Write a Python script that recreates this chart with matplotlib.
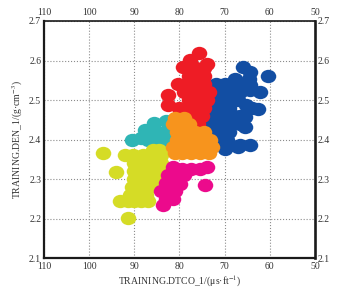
import matplotlib
matplotlib.use('Agg')
import matplotlib.pyplot as plt
from matplotlib.path import Path
from matplotlib.transforms import Affine2D

plt.rcParams['font.family'] = ['Liberation Serif', 'DejaVu Serif']

teal_x = [90.5, 88.5, 87.6, 85.6, 85.0, 83.0, 83.0, 85.0, 87.0, 83.0]
teal_y = [2.399, 2.405, 2.424, 2.442, 2.42, 2.447, 2.42, 2.40, 2.40, 2.40]

yellow_x = [96.9, 94.1, 91.4,
            85.9, 84.5,
            92.1, 90.3, 88.0, 86.0, 84.0,
            90.0, 88.0, 86.0, 84.0,
            90.0, 88.0, 86.0, 84.5,
            90.0, 88.0, 86.0, 85.0,
            90.5, 88.5, 86.5,
            91.0, 89.0, 87.5,
            93.2, 91.5, 90.0, 88.5, 87.0]
yellow_y = [2.365, 2.317, 2.201,
            2.373, 2.373,
            2.36, 2.36, 2.36, 2.36, 2.36,
            2.34, 2.34, 2.34, 2.34,
            2.32, 2.32, 2.32, 2.32,
            2.30, 2.30, 2.30, 2.30,
            2.28, 2.28, 2.28,
            2.26, 2.26, 2.26,
            2.244, 2.244, 2.244, 2.244, 2.244]

blue_x = [60.4, 65.9, 64.4, 64.6, 67.7, 62.2, 64.4, 65.5, 64.0, 62.6, 65.3, 65.5, 65.5,
          66.5, 68.8, 64.5, 67.0, 70.0,
          72.0, 70.0, 68.0, 66.5,
          72.5, 70.5, 68.5, 66.5, 64.5,
          73.0, 71.0, 69.0, 67.0,
          73.0, 71.0, 69.0,
          74.0, 72.0, 70.0, 68.0, 66.5,
          74.5, 72.5, 70.5, 68.5, 66.5,
          75.0, 73.0, 71.0, 69.0,
          73.0, 71.0, 69.5]
blue_y = [2.561, 2.584, 2.571, 2.553, 2.553, 2.52, 2.538, 2.535, 2.48, 2.477, 2.487, 2.457, 2.432,
          2.385, 2.385, 2.387, 2.38, 2.375,
          2.54, 2.54, 2.54, 2.54,
          2.52, 2.52, 2.52, 2.52, 2.525,
          2.50, 2.50, 2.50, 2.50,
          2.48, 2.48, 2.48,
          2.46, 2.46, 2.46, 2.46, 2.46,
          2.44, 2.44, 2.44, 2.44, 2.44,
          2.42, 2.42, 2.42, 2.42,
          2.40, 2.40, 2.40]

red_x = [75.7, 77.7, 79.2, 73.9, 76.4, 74.5,
         78.0, 76.0, 74.5,
         80.3, 78.5, 76.5, 74.5,
         79.0, 77.0, 75.0, 73.5,
         82.5, 78.0, 76.0, 74.0,
         82.5, 80.0, 78.0, 76.0, 74.5,
         80.0, 78.0, 76.0, 75.0,
         78.0, 76.0, 77.0, 75.5]
red_y = [2.619, 2.601, 2.584, 2.591, 2.581, 2.58,
         2.56, 2.56, 2.56,
         2.54, 2.54, 2.54, 2.54,
         2.52, 2.52, 2.52, 2.52,
         2.513, 2.50, 2.50, 2.50,
         2.487, 2.48, 2.48, 2.48, 2.48,
         2.46, 2.46, 2.46, 2.46,
         2.44, 2.44, 2.42, 2.42]

magenta_x = [74.4,
             81.5, 79.5, 77.5, 75.5, 74.0,
             82.5, 80.5, 79.0,
             83.0, 81.0, 79.9,
             84.0, 82.5, 81.0,
             83.0, 81.5,
             83.7]
magenta_y = [2.285,
             2.33, 2.325, 2.325, 2.325, 2.33,
             2.31, 2.31, 2.31,
             2.29, 2.29, 2.287,
             2.27, 2.27, 2.27,
             2.25, 2.25,
             2.234]

orange_x = [81.0, 79.0,
            81.5, 80.0, 78.0,
            80.5, 78.5, 76.5, 74.5,
            80.5, 79.0, 77.0, 75.0, 73.2,
            81.5, 80.5, 78.5, 76.5, 74.5, 72.8,
            81.0, 79.5, 77.5, 75.5, 73.5]
orange_y = [2.454, 2.454,
            2.44, 2.44, 2.44,
            2.42, 2.42, 2.42, 2.42,
            2.40, 2.40, 2.40, 2.40, 2.40,
            2.38, 2.38, 2.38, 2.38, 2.38, 2.38,
            2.365, 2.365, 2.365, 2.365, 2.365]

series = [
    (teal_x, teal_y, '#2fb5b5'),
    (yellow_x, yellow_y, '#d5dc26'),
    (blue_x, blue_y, '#124ea3'),
    (red_x, red_y, '#ee1c25'),
    (magenta_x, magenta_y, '#ec0a8c'),
    (orange_x, orange_y, '#f7941d'),
]

x_ticks = [110, 100, 90, 80, 70, 60, 50]
y_ticks = [2.1, 2.2, 2.3, 2.4, 2.5, 2.6, 2.7]

# the dots in the picture are a bit wider than tall
dot = Path.unit_circle().transformed(Affine2D().scale(1.0, 0.86))

fig = plt.figure(figsize=(3.49, 2.95), dpi=100)
ax = fig.add_axes([44 / 349, 1 - 258 / 295, 271 / 349, 237 / 295])

for xs, ys, c in series:
    ax.scatter(xs, ys, s=125, marker=dot, color=c, linewidths=0, zorder=3)

ax.set_xlim(110, 50)
ax.set_ylim(2.1, 2.7)
ax.set_xticks(x_ticks)
ax.set_yticks(y_ticks)
ax.set_yticklabels([f'{v:.1f}' for v in y_ticks])
ax.grid(True, color='#8c8c8c', linestyle=':', linewidth=0.8, zorder=1)
ax.tick_params(length=0, labelsize=7, colors='#333333', pad=2,
               top=True, right=True, labeltop=True, labelright=True)
ax.tick_params(axis='x', pad=3)
for side, lw in [('left', 1.6), ('bottom', 1.6), ('right', 1.9), ('top', 1.2)]:
    ax.spines[side].set_linewidth(lw)
    ax.spines[side].set_color('#1a1a1a')

ax.set_xlabel('TRAINING.DTCO_1/(μs·ft$^{-1}$)', fontsize=7, color='#333333', labelpad=2,
              math_fontfamily='stix')
ax.set_ylabel('TRAINING.DEN_1/(g·cm$^{-3}$)', fontsize=7, color='#333333', labelpad=3,
              math_fontfamily='stix')

fig.savefig('out.png', dpi=100)
